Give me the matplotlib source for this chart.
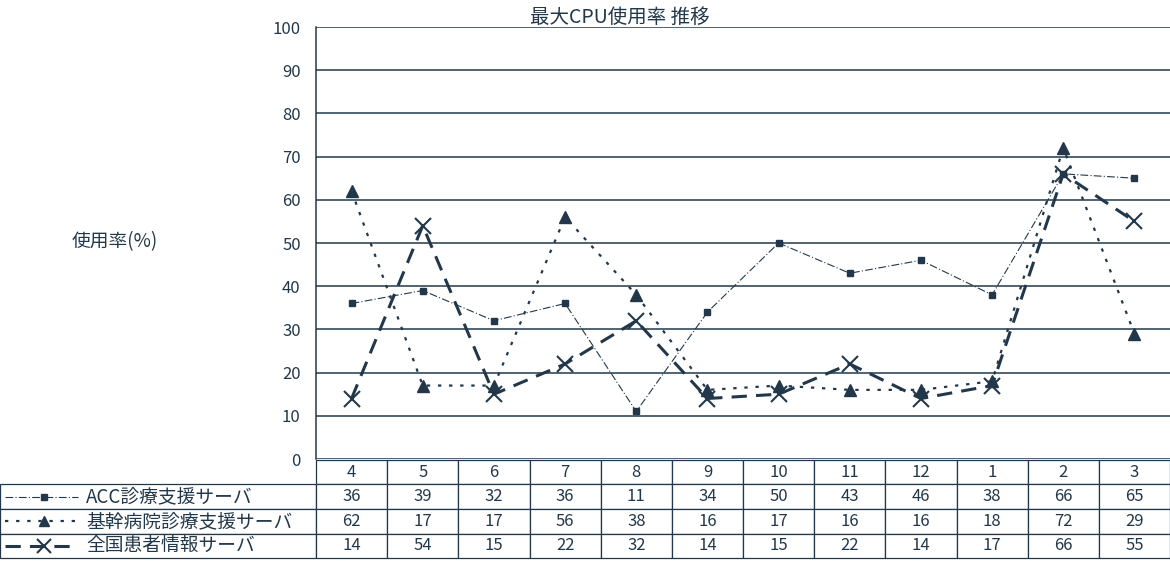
import matplotlib
matplotlib.use("Agg")
import matplotlib.pyplot as plt
from matplotlib.lines import Line2D

plt.rcParams['font.family'] = ['Noto Sans CJK JP', 'DejaVu Sans']

# Months (fiscal year, April to March)
months = ["4", "5", "6", "7", "8", "9", "10", "11", "12", "1", "2", "3"]

# Peak CPU usage (%) per server
series_names = ["ACC診療支援サーバ", "基幹病院診療支援サーバ", "全国患者情報サーバ"]
acc_values = [36, 39, 32, 36, 11, 34, 50, 43, 46, 38, 66, 65]
core_values = [62, 17, 17, 56, 38, 16, 17, 16, 16, 18, 72, 29]
national_values = [14, 54, 15, 22, 32, 14, 15, 22, 14, 17, 66, 55]

title = "最大CPU使用率 推移"
ylabel = "使用率(%)"
yticks = [0, 10, 20, 30, 40, 50, 60, 70, 80, 90, 100]

INK = "#22384a"

W, H = 1170, 569
fig = plt.figure(figsize=(W / 100, H / 100), dpi=100)
fig.patch.set_facecolor("white")

ax_left, ax_right = 316, 1170
ax_top, ax_bottom = 27, 459
ax = fig.add_axes([ax_left / W, 1 - ax_bottom / H,
                   (ax_right - ax_left) / W, (ax_bottom - ax_top) / H])

x = list(range(len(months)))

styles = [
    dict(color=INK, lw=0.8, ls=(0, (7, 2, 1, 2)), marker="s", ms=4.5,
         mfc=INK, mec=INK),
    dict(color=INK, lw=1.6, ls=(0, (1.5, 3.5)), marker="^", ms=8,
         mfc=INK, mec=INK),
    dict(color=INK, lw=2.2, ls=(0, (5, 3)), marker="x", ms=11, mew=1.5,
         mfc=INK, mec=INK),
]
for vals, st in zip([acc_values, core_values, national_values], styles):
    ax.plot(x, vals, **st, zorder=3)

ax.set_xlim(-0.5, len(months) - 0.5)
ax.set_ylim(0, 100)
ax.set_yticks(yticks)
ax.yaxis.grid(True, color=INK, lw=1.1)
ax.set_axisbelow(True)
ax.tick_params(axis="y", length=0, pad=11, labelsize=12, labelcolor=INK)
ax.tick_params(axis="x", length=0, labelbottom=False)
for side in ["top", "right", "bottom"]:
    ax.spines[side].set_visible(False)
ax.spines["left"].set_color(INK)
ax.spines["left"].set_linewidth(1.1)

ax.text(0.356, 0.998, title, transform=ax.transAxes, ha="center",
        va="bottom", fontsize=14, color=INK)
fig.text(115 / W, 1 - 242 / H, ylabel, ha="center", va="center",
         fontsize=13.5, color=INK)

# Data table under the plot
ax_w = ax_right - ax_left
ax_h = ax_bottom - ax_top
tbl_top, tbl_bottom = 460, 558
label_w = 316
cell_w = ax_w / len(months)
cell_text = [[""] + months]
for name, vals in zip(series_names, [acc_values, core_values, national_values]):
    cell_text.append([name] + [str(v) for v in vals])

tbl = ax.table(
    cellText=cell_text,
    colWidths=[label_w] + [cell_w] * len(months),
    cellLoc="center",
    bbox=[-label_w / ax_w, (ax_bottom - tbl_bottom) / ax_h,
          (label_w + ax_w) / ax_w, (tbl_bottom - tbl_top) / ax_h],
)
tbl.auto_set_font_size(False)
tbl.set_fontsize(12)
for (r, c), cell in tbl.get_celld().items():
    cell.set_edgecolor(INK)
    cell.set_linewidth(0.9)
    cell.get_text().set_color(INK)
    if r == 0 and c == 0:
        cell.visible_edges = ""
    elif c == 0:
        cell.get_text().set_ha("left")
        cell.get_text().set_fontsize(13.5)
        cell._loc = "left"
        cell.PAD = 86 / label_w

# Legend keys inside the label cells
row_h = (tbl_bottom - tbl_top) / 4
for i, st in enumerate(styles):
    yc = 1 - (tbl_top + row_h * (i + 1.5)) / H
    key = dict(st)
    fig.add_artist(Line2D([5 / W, 78 / W], [yc, yc], transform=fig.transFigure,
                          markevery=[], **key))
    fig.add_artist(Line2D([44 / W], [yc], transform=fig.transFigure,
                          marker=st["marker"], ms=st["ms"] * 0.9, mfc=INK,
                          mec=INK, mew=st.get("mew", 1.0), ls="none"))

fig.savefig("out.png", dpi=100, facecolor="white")
